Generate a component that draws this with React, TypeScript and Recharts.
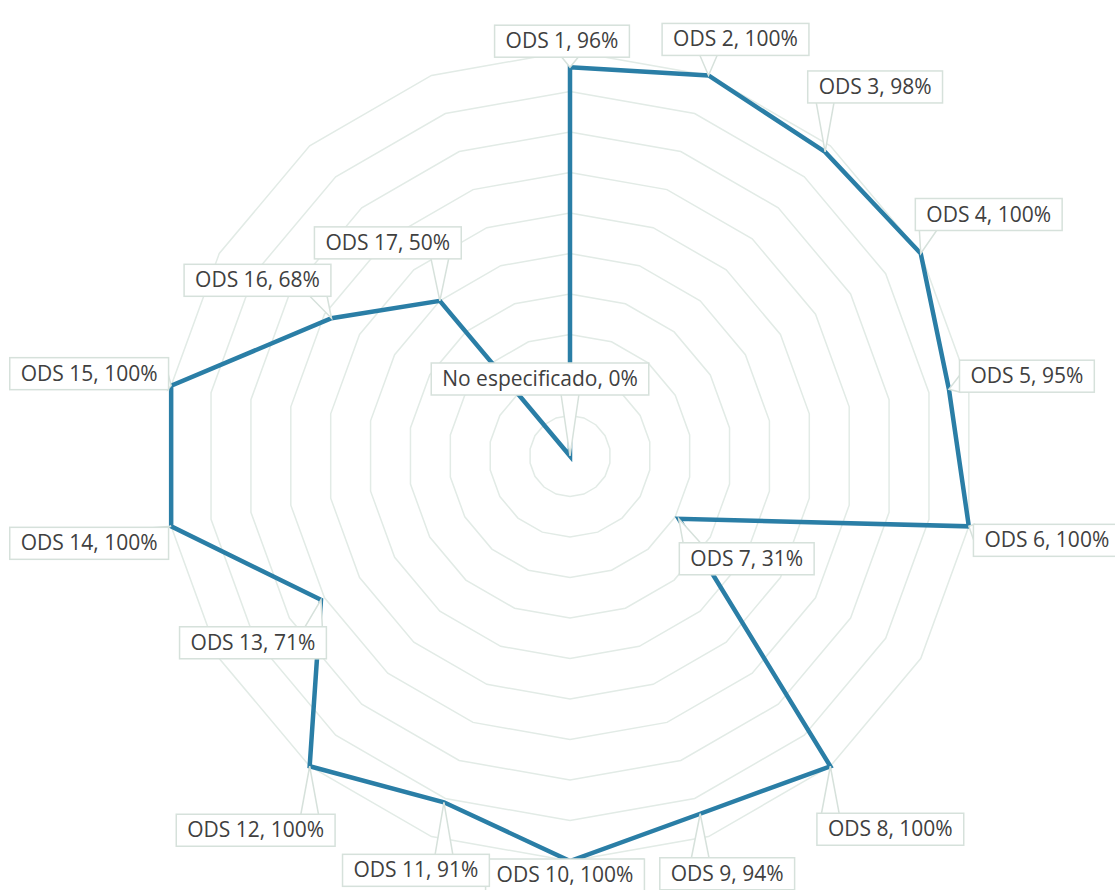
import {
  RadarChart,
  Radar,
  PolarGrid,
  PolarAngleAxis,
  PolarRadiusAxis,
} from "recharts";

const categories = [
  "ODS 1", "ODS 2", "ODS 3", "ODS 4", "ODS 5", "ODS 6", "ODS 7", "ODS 8", "ODS 9",
  "ODS 10", "ODS 11", "ODS 12", "ODS 13", "ODS 14", "ODS 15", "ODS 16", "ODS 17",
  "No especificado",
];
const values = [96, 100, 98, 100, 95, 100, 31, 100, 94, 100, 91, 100, 71, 100, 100, 68, 50, 0];

// where each callout box sits, relative to its point (layout only)
const labelOffsets: [number, number][] = [
  [-8, -26], [27, -36], [50, -65], [68, -39], [78, -13], [78, 14], [68, 40], [60, 63], [27, 60],
  [-5, 14], [-28, 68], [-54, 64], [-68, 43], [-82, 17], [-82, -12], [-74, -38], [-52, -58],
  [-30, -77],
];

const rows = categories.map((name, i) => ({ name, value: values[i] }));

const FONT = "21px 'Open Sans'";
let ctx: CanvasRenderingContext2D | null = null;
function textWidth(s: string) {
  if (!ctx) ctx = document.createElement("canvas").getContext("2d");
  if (!ctx) return s.length * 10;
  ctx.font = FONT;
  return ctx.measureText(s).width;
}

function Callout(props: any) {
  const { cx, cy, index, payload } = props;
  if (cx == null || cy == null) return null;
  const text = `${payload.name}, ${payload.value}%`;
  const w = textWidth(text) + 22;
  const h = 32;
  const [dx, dy] = labelOffsets[index];
  const bx = cx + dx - w / 2;
  const by = cy + dy - h / 2;
  // pointer base on the box edge facing the point
  let base: [number, number][];
  const half = 9;
  if (cy > by + h) {
    const x = Math.min(Math.max(cx, bx + half + 4), bx + w - half - 4);
    base = [[x - half, by + h - 1], [x + half, by + h - 1]];
  } else if (cy < by) {
    const x = Math.min(Math.max(cx, bx + half + 4), bx + w - half - 4);
    base = [[x - half, by + 1], [x + half, by + 1]];
  } else if (cx < bx) {
    const y = Math.min(Math.max(cy, by + half), by + h - half);
    base = [[bx + 1, y - half], [bx + 1, y + half]];
  } else {
    const y = Math.min(Math.max(cy, by + half), by + h - half);
    base = [[bx + w - 1, y - half], [bx + w - 1, y + half]];
  }
  const wedge = `${base[0][0]},${base[0][1]} ${cx},${cy} ${base[1][0]},${base[1][1]}`;
  return (
    <g key={`c-${index}`}>
      <polygon points={wedge} fill="#ffffff" stroke="#d6e1db" strokeWidth={1.5} />
      <rect x={bx} y={by} width={w} height={h} fill="#ffffff" stroke="#d6e1db" strokeWidth={1.5} />
      <text
        x={bx + w / 2}
        y={by + h / 2 + 7}
        textAnchor="middle"
        fontFamily="'Open Sans'"
        fontSize={21}
        fill="#404040"
      >
        {text}
      </text>
    </g>
  );
}

export default function App() {
  return (
    <div style={{ position: "absolute", left: 0, top: 0, background: "#ffffff" }}>
      <RadarChart
        width={1115}
        height={890}
        data={rows}
        cx={570}
        cy={456}
        outerRadius={405}
        startAngle={90}
        endAngle={-270}
        margin={{ top: 0, right: 0, bottom: 0, left: 0 }}
      >
        <PolarGrid gridType="polygon" radialLines={false} stroke="#e2ebe6" strokeWidth={1.5} />
        <PolarAngleAxis dataKey="name" tick={false} axisLine={false} />
        <PolarRadiusAxis
          domain={[0, 100]}
          tickCount={11}
          tick={false}
          axisLine={false}
          angle={90}
        />
        <Radar
          dataKey="value"
          stroke="#2a7ea6"
          strokeWidth={4.5}
          strokeLinejoin="miter"
          fill="none"
          fillOpacity={0}
          dot={(p: any) => <Callout {...p} />}
          isAnimationActive={false}
        />
      </RadarChart>
    </div>
  );
}
